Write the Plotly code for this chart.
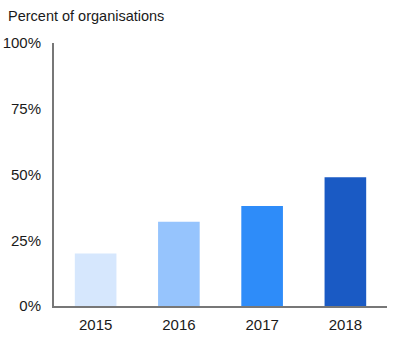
import plotly.graph_objects as go

# Share of organisations by year
years = ["2015", "2016", "2017", "2018"]
percent = [20, 32, 38, 49]
bar_colors = ["#d6e7fd", "#96c4fd", "#2e8cf9", "#1a5ac4"]

y_ticks = [0, 25, 50, 75, 100]
y_tick_labels = ["0%", "25%", "50%", "75%", "100%"]

font_family = "Liberation Sans, Arial, sans-serif"
text_color = "#1a1a1a"

fig = go.Figure(
    go.Bar(
        x=years,
        y=percent,
        marker=dict(color=bar_colors, line=dict(width=0)),
        hovertemplate="%{x}: %{y}%<extra></extra>",
    )
)

fig.update_layout(
    width=400,
    height=343,
    margin=dict(l=54, r=13, t=43, b=37),
    paper_bgcolor="white",
    plot_bgcolor="white",
    bargap=0.5,
    showlegend=False,
    font=dict(family=font_family, size=15, color=text_color),
    title=dict(
        text="Percent of organisations",
        x=8 / 400,
        xref="container",
        xanchor="left",
        y=1 - 16 / 343,
        yref="container",
        yanchor="middle",
        font=dict(family=font_family, size=14.5, color=text_color),
    ),
)

fig.update_xaxes(
    automargin=False,
    showgrid=False,
    showline=True,
    linecolor="#777777",
    linewidth=2,
    ticks="",
    ticklabelstandoff=4,
    tickfont=dict(size=15, color=text_color),
)

fig.update_yaxes(
    automargin=False,
    range=[0, 100],
    tickvals=y_ticks,
    ticktext=y_tick_labels,
    showgrid=False,
    zeroline=False,
    showline=True,
    linecolor="#777777",
    linewidth=2,
    ticks="",
    ticklabelstandoff=8,
    tickfont=dict(size=15, color=text_color),
)

fig.write_html("out.html")
